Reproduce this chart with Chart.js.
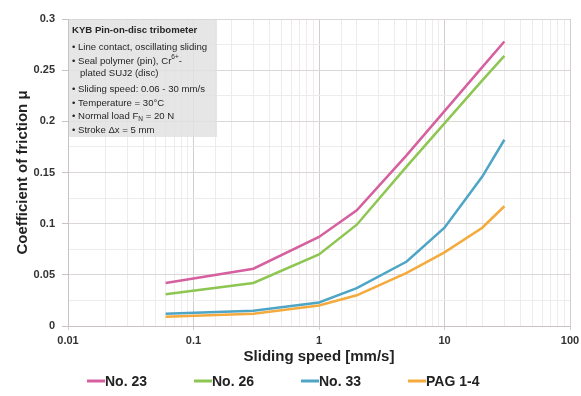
<!DOCTYPE html>
<html>
<head>
<meta charset="utf-8">
<script src="https://cdn.jsdelivr.net/npm/chart.js@4"></script>
<style>
  html, body { margin: 0; padding: 0; background: #fff; }
  #wrap { width: 581px; height: 396px; }
</style>
</head>
<body>
<div id="wrap"><canvas id="myChart" width="581" height="396"></canvas></div>
<script>
// sliding speed [mm/s]
const speeds = [0.06, 0.3, 1, 2, 5, 10, 20, 30];

// coefficient of friction per lubricant
const no23 = [0.042, 0.056, 0.087, 0.113, 0.167, 0.210, 0.253, 0.278];
const no26 = [0.031, 0.042, 0.070, 0.099, 0.156, 0.198, 0.240, 0.264];
const no33 = [0.012, 0.015, 0.023, 0.037, 0.063, 0.096, 0.146, 0.182];
const pag14 = [0.009, 0.012, 0.020, 0.030, 0.052, 0.072, 0.096, 0.117];

const seriesNames = ["No. 23", "No. 26", "No. 33", "PAG 1-4"];
const seriesColors = ["#d6609f", "#8dc653", "#4ea5c6", "#f4aa3c"];

// text of the info box
const infoTitle = "KYB Pin-on-disc tribometer";
const infoLines = [
  [{ t: "\u2022 Line contact, oscillating sliding" }],
  [{ t: "\u2022 Seal polymer (pin), Cr" }, { t: "6+", sup: true }, { t: "-" }],
  [{ t: "   plated SUJ2 (disc)" }],
  [{ t: "\u2022 Sliding speed: 0.06 - 30 mm/s" }],
  [{ t: "\u2022 Temperature = 30\u00b0C" }],
  [{ t: "\u2022 Normal load F" }, { t: "N", sub: true }, { t: " = 20 N" }],
  [{ t: "\u2022 Stroke \u0394x = 5 mm" }],
];

const FONT = "'Liberation Sans', Arial, sans-serif";

function toPoints(vals) {
  return speeds.map((s, i) => ({ x: s, y: vals[i] }));
}

function isDecade(v) {
  const l = Math.log10(v);
  return Math.abs(l - Math.round(l)) < 1e-6;
}

// info box in the top-left corner of the plot
const infoBox = {
  id: "infoBox",
  afterDatasetsDraw(chart) {
    const ctx = chart.ctx;
    const a = chart.chartArea;
    const x0 = a.left + 1, y0 = a.top + 1;
    ctx.save();
    ctx.fillStyle = "rgba(226,226,226,0.85)";
    ctx.fillRect(x0, y0, 148, 117);
    ctx.fillStyle = "#262626";
    ctx.textBaseline = "middle";
    ctx.font = "bold 9.6px " + FONT;
    ctx.fillText(infoTitle, x0 + 3, y0 + 10);
    const ys = [27, 41, 53, 69, 83, 96, 110];
    infoLines.forEach((segs, i) => {
      let x = x0 + 3;
      const y = y0 + ys[i];
      segs.forEach((s) => {
        if (s.sup || s.sub) {
          ctx.font = "6.5px " + FONT;
          ctx.fillText(s.t, x, y + (s.sup ? -3.5 : 3));
        } else {
          ctx.font = "9.6px " + FONT;
          ctx.fillText(s.t, x, y);
        }
        x += ctx.measureText(s.t).width;
      });
    });
    ctx.restore();
  },
};

// legend drawn under the x axis title
const bottomLegend = {
  id: "bottomLegend",
  afterDraw(chart) {
    const ctx = chart.ctx;
    ctx.save();
    ctx.font = "bold 14px " + FONT;
    ctx.textBaseline = "middle";
    chart.data.datasets.forEach((ds, i) => {
      const x = 87 + i * 107;
      const y = 381;
      ctx.strokeStyle = ds.borderColor;
      ctx.lineWidth = 3;
      ctx.beginPath();
      ctx.moveTo(x, y);
      ctx.lineTo(x + 18, y);
      ctx.stroke();
      ctx.fillStyle = "#222";
      ctx.fillText(ds.label, x + 18, y + 1);
    });
    ctx.restore();
  },
};

const datasets = [no23, no26, no33, pag14].map((vals, i) => ({
  label: seriesNames[i],
  data: toPoints(vals),
  borderColor: seriesColors[i],
  backgroundColor: seriesColors[i],
  borderWidth: 2.5,
  pointRadius: 0,
  fill: false,
  tension: 0,
}));

const ctx = document.getElementById("myChart").getContext("2d");
const myChart = new Chart(ctx, {
  type: "line",
  data: { datasets: datasets },
  options: {
    responsive: false,
    animation: false,
    layout: { padding: { top: 19, right: 11, bottom: 30, left: 0 } },
    plugins: {
      legend: { display: false },
      tooltip: { enabled: false },
    },
    scales: {
      x: {
        type: "logarithmic",
        min: 0.01,
        max: 100,
        afterFit: (s) => { s.height = 40; s.paddingRight = 0; },
        border: { color: "#c9c2c2" },
        grid: {
          color: (c) => (c.tick && isDecade(c.tick.value) ? "#d3cdcd" : "#eeebeb"),
          tickColor: (c) => (c.tick && isDecade(c.tick.value) ? "#d3cdcd" : "rgba(0,0,0,0)"),
          tickLength: 4,
        },
        ticks: {
          autoSkip: false,
          maxRotation: 0,
          padding: 4,
          color: "#333",
          font: { family: FONT, size: 11, weight: "bold" },
          callback: (v) => (isDecade(v) ? String(Number(v.toPrecision(3))) : ""),
        },
        title: {
          display: true,
          text: "Sliding speed [mm/s]",
          color: "#222",
          font: { family: FONT, size: 15, weight: "bold" },
          padding: 0,
        },
      },
      y: {
        min: 0,
        max: 0.3,
        afterFit: (s) => { s.width = 68; },
        border: { color: "#c9c2c2" },
        grid: {
          color: (c) => (Math.round(c.tick.value * 1000) % 50 === 0 ? "#dcd7d7" : "#eeebeb"),
          tickColor: (c) => (Math.round(c.tick.value * 1000) % 50 === 0 ? "#c9c2c2" : "rgba(0,0,0,0)"),
          tickLength: 6,
        },
        ticks: {
          stepSize: 0.025,
          autoSkip: false,
          padding: 7,
          color: "#333",
          font: { family: FONT, size: 11, weight: "bold" },
          callback: (v) => {
            const r = Math.round(v * 1000);
            return r % 50 === 0 ? String(r / 1000) : "";
          },
        },
        title: {
          display: true,
          text: "Coefficient of friction \u03bc",
          color: "#222",
          font: { family: FONT, size: 15, weight: "bold" },
          padding: { top: 14, bottom: 0 },
        },
      },
    },
  },
  plugins: [infoBox, bottomLegend],
});
</script>
</body>
</html>
